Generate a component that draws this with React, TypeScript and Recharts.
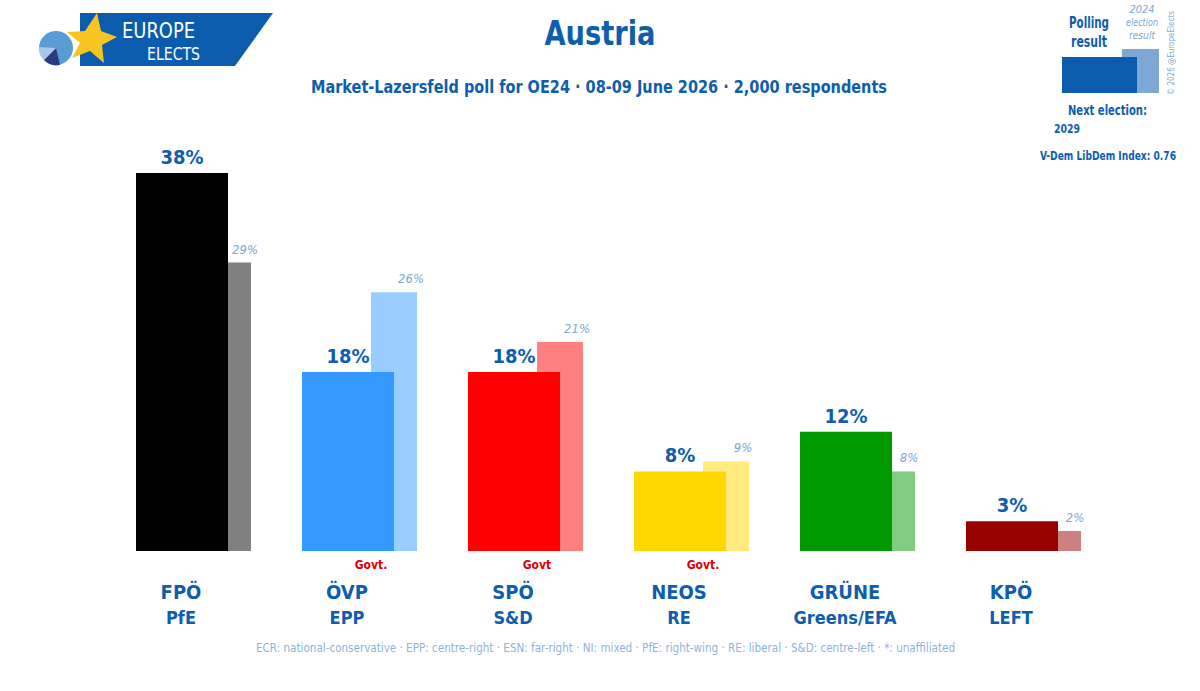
import React from "react";
import { BarChart, Bar, XAxis, YAxis, Cell, LabelList } from "recharts";

const parties = ["FPÖ", "ÖVP", "SPÖ", "NEOS", "GRÜNE", "KPÖ"];
const groups = ["PfE", "EPP", "S&D", "RE", "Greens/EFA", "LEFT"];
const govt = ["", "Govt.", "Govt", "Govt.", "", ""];
const poll = [38, 18, 18, 8, 12, 3];
const election2024 = [29, 26, 21, 9, 8, 2];
const mainColors = ["#000000", "#3399FF", "#FF0000", "#FFD700", "#009900", "#990000"];
const prevColors = ["#808080", "#99CCFF", "#FF8080", "#FFEB80", "#80CC80", "#CC8080"];

const data = parties.map((p, i) => ({
  party: p,
  poll: poll[i],
  prev: election2024[i],
}));

const FONT = "'DejaVu Sans Condensed', 'Roboto', sans-serif";
const BLUE = "#0E5DAE";
const LIGHT = "#7DA7D4";

function PartyTick(props: any) {
  const { x, y, payload } = props;
  const i = payload.index;
  const cx = x - 35;
  return (
    <g fontFamily={FONT} fontWeight="bold">
      {govt[i] && (
        <text x={cx + 24} y={y + 10} textAnchor="middle" fill="#E00000" fontSize={12}>
          {govt[i]}
        </text>
      )}
      <text x={cx} y={y + 40} textAnchor="middle" fill={BLUE} fontSize={20}>
        {parties[i]}
      </text>
      <text x={cx} y={y + 65} textAnchor="middle" fill={BLUE} fontSize={18}>
        {groups[i]}
      </text>
    </g>
  );
}

function PrevLabel(props: any) {
  const { x, y, width, value } = props;
  return (
    <text
      x={x + width / 2 + 17}
      y={y - 9}
      textAnchor="middle"
      fill={LIGHT}
      fontFamily={FONT}
      fontStyle="italic"
      fontSize={13}
    >
      {value}%
    </text>
  );
}

function Header() {
  return (
    <svg width={1200} height={691} style={{ position: "absolute", left: 0, top: 0 }}>
      <g fontFamily={FONT}>
        {/* logo */}
        <polygon points="80,13 273,13 235,66 80,66" fill="#0B5CAD" />
        <circle cx={56} cy={48} r={17} fill="#5B9BD5" />
        <path d="M56,48 L60,65 A17,17 0 0 1 44,60 Z" fill="#2B3A80" />
        <path d="M56,48 L44,60 A17,17 0 0 1 39,47 Z" fill="#A9C9EC" />
        <polygon
          points="97,13 101,31 117,37 102,45 104,63 90,51 72,58 80,43 67,32 85,31"
          fill="#F7C520"
        />
        <text x={122} y={38} fill="#fff" fontSize={22} textLength={73} lengthAdjust="spacingAndGlyphs">
          EUROPE
        </text>
        <text x={147} y={60} fill="#fff" fontSize={18} textLength={53} lengthAdjust="spacingAndGlyphs">
          ELECTS
        </text>

        {/* titles */}
        <text x={600} y={45} textAnchor="middle" fill={BLUE} fontWeight="bold" fontSize={34} textLength={111} lengthAdjust="spacingAndGlyphs">
          Austria
        </text>
        <text x={599} y={93} textAnchor="middle" fill={BLUE} fontWeight="bold" fontSize={18} textLength={576} lengthAdjust="spacingAndGlyphs">
          Market-Lazersfeld poll for OE24 · 08-09 June 2026 · 2,000 respondents
        </text>

        {/* key */}
        <text x={1089} y={28} textAnchor="middle" fill={BLUE} fontWeight="bold" fontSize={15} textLength={40} lengthAdjust="spacingAndGlyphs">
          Polling
        </text>
        <text x={1089} y={47} textAnchor="middle" fill={BLUE} fontWeight="bold" fontSize={15} textLength={36} lengthAdjust="spacingAndGlyphs">
          result
        </text>
        <text x={1142} y={13} textAnchor="middle" fill={LIGHT} fontStyle="italic" fontSize={11}>
          2024
        </text>
        <text x={1142} y={26} textAnchor="middle" fill={LIGHT} fontStyle="italic" fontSize={11} textLength={32} lengthAdjust="spacingAndGlyphs">
          election
        </text>
        <text x={1142} y={39} textAnchor="middle" fill={LIGHT} fontStyle="italic" fontSize={11} textLength={26} lengthAdjust="spacingAndGlyphs">
          result
        </text>
        <rect x={1122} y={49} width={37} height={44} fill="#7DA7D4" />
        <rect x={1062} y={57} width={75} height={36} fill="#0B5CAD" />
        <text
          transform="translate(1174,95) rotate(-90)"
          fill={LIGHT}
          fontSize={9}
          textLength={84}
          lengthAdjust="spacingAndGlyphs"
        >
          © 2026 @EuropeElects
        </text>
        <text x={1068} y={115} fill={BLUE} fontWeight="bold" fontSize={14} textLength={79} lengthAdjust="spacingAndGlyphs">
          Next election:
        </text>
        <text x={1054} y={133} fill={BLUE} fontWeight="bold" fontSize={13} textLength={26} lengthAdjust="spacingAndGlyphs">
          2029
        </text>
        <text x={1040} y={160} fill={BLUE} fontWeight="bold" fontSize={12} textLength={136} lengthAdjust="spacingAndGlyphs">
          V-Dem LibDem Index: 0.76
        </text>

        {/* footer */}
        <text x={256} y={652} fill="#8DB4DC" fontSize={12} textLength={699} lengthAdjust="spacingAndGlyphs">
          ECR: national-conservative · EPP: centre-right · ESN: far-right · NI: mixed · PfE: right-wing · RE: liberal · S&amp;D: centre-left · *: unaffiliated
        </text>
      </g>
    </svg>
  );
}

export default function App() {
  return (
    <div
      style={{
        position: "absolute",
        left: 0,
        top: 0,
        width: 1200,
        height: 691,
        background: "#fff",
        fontFamily: FONT,
      }}
    >
      <Header />
      <div style={{ position: "absolute", left: 0, top: 0 }}>
        <BarChart
          width={1200}
          height={691}
          data={data}
          margin={{ top: 173, right: 71, bottom: 0, left: 133 }}
          barGap={-115}
        >
          <XAxis
            dataKey="party"
            axisLine={false}
            tickLine={false}
            height={140}
            interval={0}
            tick={<PartyTick />}
          />
          <YAxis hide domain={[0, 38]} />
          <Bar dataKey="prev" barSize={46} isAnimationActive={false}>
            {data.map((d, i) => (
              <Cell key={d.party} fill={prevColors[i]} />
            ))}
            <LabelList dataKey="prev" content={<PrevLabel />} />
          </Bar>
          <Bar dataKey="poll" barSize={92} isAnimationActive={false}>
            {data.map((d, i) => (
              <Cell key={d.party} fill={mainColors[i]} />
            ))}
            <LabelList
              dataKey="poll"
              position="top"
              offset={9}
              fill={BLUE}
              fontSize={20}
              fontWeight="bold"
              fontFamily={FONT}
              formatter={(v: any) => `${v}%`}
            />
          </Bar>
        </BarChart>
      </div>
    </div>
  );
}
